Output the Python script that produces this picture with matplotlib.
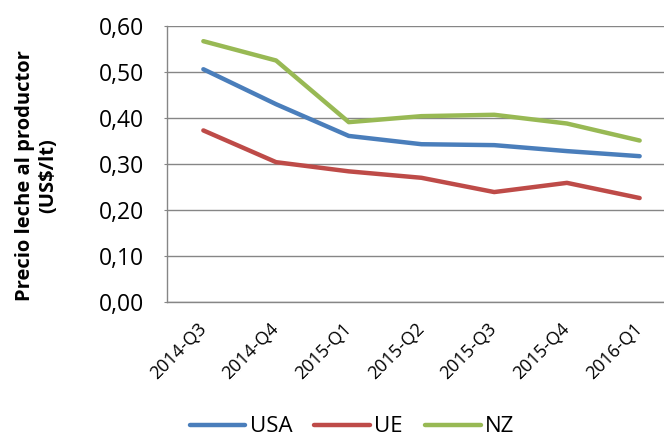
import matplotlib.pyplot as plt
import numpy as np
from matplotlib.ticker import FuncFormatter

quarters = ["2014-Q3", "2014-Q4", "2015-Q1", "2015-Q2", "2015-Q3", "2015-Q4", "2016-Q1"]
usa = [0.506, 0.430, 0.361, 0.343, 0.341, 0.328, 0.317]
ue = [0.373, 0.304, 0.284, 0.270, 0.239, 0.259, 0.226]
nz = [0.567, 0.525, 0.391, 0.404, 0.407, 0.388, 0.351]

plt.rcParams['font.family'] = ['Open Sans', 'DejaVu Sans']

fig = plt.figure(figsize=(6.64, 4.37), dpi=100)
ax = fig.add_axes([167 / 664, 1 - 302 / 437, (676 - 167) / 664, 276 / 437])

x = np.arange(len(quarters))
ax.plot(x, usa, color="#4A7EBB", lw=3.2, label="USA", solid_capstyle="round")
ax.plot(x, ue, color="#BE4B48", lw=3.2, label="UE", solid_capstyle="round")
ax.plot(x, nz, color="#98B954", lw=3.2, label="NZ", solid_capstyle="round")

ax.set_xlim(-0.5, len(quarters) - 0.5)
ax.set_ylim(0, 0.6)
ax.set_yticks(np.arange(0, 0.61, 0.1))
ax.yaxis.set_major_formatter(FuncFormatter(lambda v, p: f"{v:.2f}".replace(".", ",")))
ax.grid(axis="y", color="#868686", lw=1)
ax.set_axisbelow(True)

for s in ["top", "right"]:
    ax.spines[s].set_visible(False)
for s in ["left", "bottom"]:
    ax.spines[s].set_color("#868686")
    ax.spines[s].set_linewidth(1)

ax.set_xticks(x)
ax.set_xticklabels(quarters, rotation=45, ha="right", va="center",
                   rotation_mode="anchor", fontsize=13)
ax.tick_params(axis="x", length=0, pad=17)
ax.tick_params(axis="y", labelsize=16.5, length=2.5, color="#868686", pad=14)

fig.text(37 / 664, 1 - 176 / 437, "Precio leche al productor\n(US$/lt)", rotation=90,
         ha="center", va="center", fontsize=14.5, fontweight="bold", linespacing=1.2)

fig.legend(loc="center", bbox_to_anchor=(352 / 664, 1 - 427 / 437), ncol=3, frameon=False,
           fontsize=16, handlelength=2.5, columnspacing=1.0, handletextpad=0.2)

fig.savefig("out.png", dpi=100)
